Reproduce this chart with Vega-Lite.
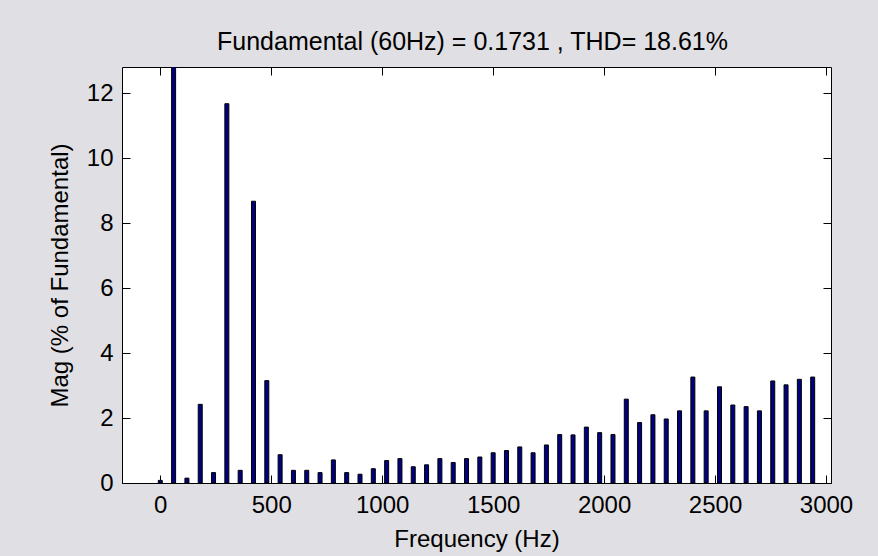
{
  "$schema": "https://vega.github.io/schema/vega-lite/v6.json",
  "autosize": "none",
  "width": 709,
  "height": 416,
  "padding": {"left": 122, "top": 67, "right": 47, "bottom": 73},
  "background": "#e0dfe3",
  "title": {
    "text": "Fundamental (60Hz) = 0.1731 , THD= 18.61%",
    "font": "Liberation Sans",
    "fontSize": 25,
    "fontWeight": "normal",
    "color": "#000000",
    "offset": 12,
    "dx": -4
  },
  "config": {
    "view": {"stroke": "#000000", "strokeWidth": 1, "fill": "#ffffff"},
    "axis": {
      "domain": false,
      "grid": false,
      "tickColor": "#000000",
      "tickWidth": 1,
      "tickSize": -8,
      "labelFont": "Liberation Sans",
      "labelFontSize": 24,
      "labelColor": "#000000",
      "titleFont": "Liberation Sans",
      "titleFontSize": 24,
      "titleFontWeight": "normal",
      "titleColor": "#000000"
    }
  },
  "data": {
    "values": [
      {"freq": 0, "mag": 0.08},
      {"freq": 60, "mag": 100},
      {"freq": 120, "mag": 0.15},
      {"freq": 180, "mag": 2.42},
      {"freq": 240, "mag": 0.32},
      {"freq": 300, "mag": 11.67},
      {"freq": 360, "mag": 0.39},
      {"freq": 420, "mag": 8.67},
      {"freq": 480, "mag": 3.15},
      {"freq": 540, "mag": 0.87},
      {"freq": 600, "mag": 0.39},
      {"freq": 660, "mag": 0.39},
      {"freq": 720, "mag": 0.32},
      {"freq": 780, "mag": 0.71},
      {"freq": 840, "mag": 0.32},
      {"freq": 900, "mag": 0.27},
      {"freq": 960, "mag": 0.44},
      {"freq": 1020, "mag": 0.69},
      {"freq": 1080, "mag": 0.75},
      {"freq": 1140, "mag": 0.5},
      {"freq": 1200, "mag": 0.56},
      {"freq": 1260, "mag": 0.75},
      {"freq": 1320, "mag": 0.63},
      {"freq": 1380, "mag": 0.75},
      {"freq": 1440, "mag": 0.8},
      {"freq": 1500, "mag": 0.93},
      {"freq": 1560, "mag": 1.0},
      {"freq": 1620, "mag": 1.11},
      {"freq": 1680, "mag": 0.93},
      {"freq": 1740, "mag": 1.17},
      {"freq": 1800, "mag": 1.49},
      {"freq": 1860, "mag": 1.48},
      {"freq": 1920, "mag": 1.72},
      {"freq": 1980, "mag": 1.55},
      {"freq": 2040, "mag": 1.49},
      {"freq": 2100, "mag": 2.58},
      {"freq": 2160, "mag": 1.86},
      {"freq": 2220, "mag": 2.1},
      {"freq": 2280, "mag": 1.97},
      {"freq": 2340, "mag": 2.22},
      {"freq": 2400, "mag": 3.26},
      {"freq": 2460, "mag": 2.22},
      {"freq": 2520, "mag": 2.96},
      {"freq": 2580, "mag": 2.4},
      {"freq": 2640, "mag": 2.35},
      {"freq": 2700, "mag": 2.22},
      {"freq": 2760, "mag": 3.14},
      {"freq": 2820, "mag": 3.02},
      {"freq": 2880, "mag": 3.19},
      {"freq": 2940, "mag": 3.26}
    ]
  },
  "layer": [
    {
      "mark": {"type": "bar", "width": 4, "fill": "#000080", "stroke": "#000000", "strokeWidth": 1, "clip": true},
      "encoding": {
        "x": {
          "field": "freq",
          "type": "quantitative",
          "scale": {"domain": [-150, 3000], "nice": false, "zero": false},
          "axis": {
            "orient": "bottom",
            "values": [0, 500, 1000, 1500, 2000, 2500, 3000],
            "format": "d",
            "labelPadding": 18,
            "title": "Frequency (Hz)",
            "titlePadding": 10
          }
        },
        "y": {
          "field": "mag",
          "type": "quantitative",
          "scale": {"domain": [0, 12.8], "nice": false},
          "axis": {
            "orient": "left",
            "values": [0, 2, 4, 6, 8, 10, 12],
            "format": "d",
            "labelPadding": 17,
            "title": "Mag (% of Fundamental)",
            "titlePadding": 14
          }
        }
      }
    },
    {
      "mark": {"type": "point", "opacity": 0, "clip": true},
      "encoding": {
        "x": {
          "field": "freq",
          "type": "quantitative",
          "axis": {
            "orient": "top",
            "values": [0, 500, 1000, 1500, 2000, 2500, 3000],
            "labels": false,
            "title": null
          }
        },
        "y": {
          "field": "mag",
          "type": "quantitative",
          "axis": {
            "orient": "right",
            "values": [0, 2, 4, 6, 8, 10, 12],
            "labels": false,
            "title": null
          }
        }
      }
    }
  ]
}
